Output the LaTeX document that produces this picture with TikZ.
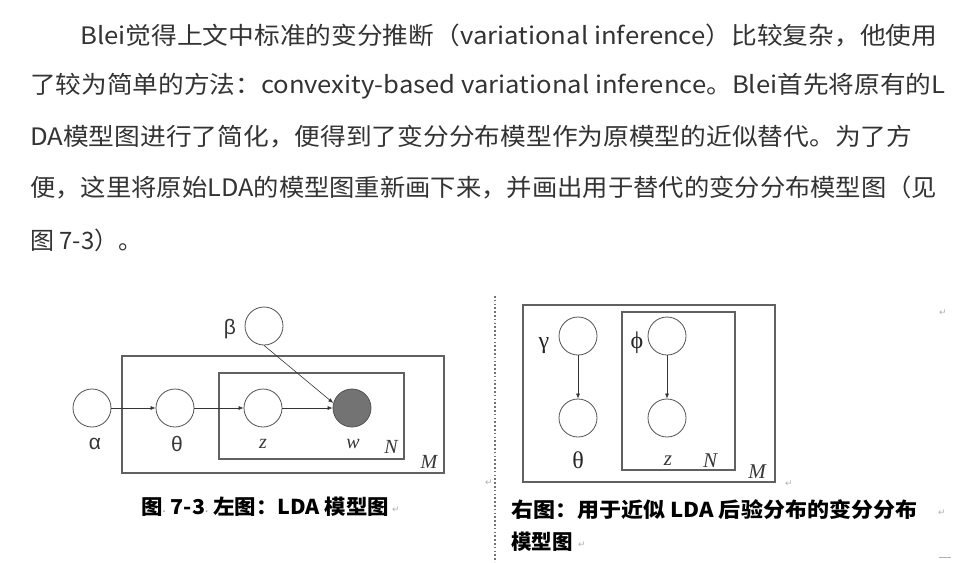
\documentclass[tikz,border=0pt]{standalone}
\usepackage{fontspec}
\setmainfont{Noto Sans CJK SC}
\newfontfamily\cjkf{Noto Sans CJK SC}
\newfontfamily\lsans{Liberation Sans}
\newfontfamily\lserif{Liberation Serif}
\newfontfamily\symf{DejaVu Sans}
\usetikzlibrary{arrows.meta}
\definecolor{txt}{HTML}{333333}
\definecolor{markc}{HTML}{B0B0B0}
\newcommand{\retmark}{{\symf\color{markc}\fontsize{9}{9}\selectfont ↵}}
\newcommand{\spmark}{{\symf\color{black!40}\fontsize{8}{8}\selectfont ·}}
\newcommand{\fitw}[2]{\resizebox{#1pt}{\height}{#2}}
\tikzset{
  para/.style={anchor=west,inner sep=0pt,text=txt,font=\cjkf\fontsize{24}{24}\selectfont},
  capt/.style={anchor=west,inner sep=0pt,text=black,font=\cjkf\bfseries\fontsize{20.5}{20.5}\selectfont},
  var/.style={circle,draw=black!68,line width=0.8pt,minimum size=38pt,inner sep=0pt,fill=white},
  obs/.style={var,fill=black!55},
  plate/.style={draw=black!62,line width=1.3pt},
  edge/.style={-{Latex[length=5pt,width=4pt]},line width=0.6pt,draw=black!80},
  glab/.style={inner sep=0pt,text=black!78,font=\lsans\fontsize{21}{21}\selectfont},
  ilab/.style={inner sep=0pt,text=black!78,font=\lserif\itshape\fontsize{20}{20}\selectfont},
  slab/.style={inner sep=0pt,text=black!85,font=\lserif\fontsize{24}{24}\selectfont},
  rmark/.style={inner sep=0pt}
}
\begin{document}
\begin{tikzpicture}[x=1pt,y=-1pt]
\useasboundingbox[fill=white] (0,0) rectangle (957,562);

% paragraph
\node[para] (l1) at (80,36) {\fitw{857}{Blei觉得上文中标准的变分推断（variational inference）比较复杂，他使用}};
\node[para] (l2) at (30,86) {\fitw{915}{了较为简单的方法：convexity-based variational inference。Blei首先将原有的L}};
\node[para] (l3) at (30,137) {\fitw{882}{DA模型图进行了简化，便得到了变分分布模型作为原模型的近似替代。为了方}};
\node[para] (l4) at (30,188) {\fitw{907}{便，这里将原始LDA的模型图重新画下来，并画出用于替代的变分分布模型图（见}};
\node[para] (l5) at (30,240) {图 7-3）。};

% left diagram
\draw[plate] (122,356) rectangle (444,473);
\draw[plate] (219,373) rectangle (404,459);
\node[var] (alpha) at (92,408) {};
\node[var] (theta) at (175,408) {};
\node[var] (z) at (263,408) {};
\node[obs] (w) at (352,408) {};
\node[var] (beta) at (264,326) {};
\node[glab] (la) at (95,444) {α};
\node[glab] (lt) at (177,444) {θ};
\node[glab] (lb) at (230,329) {β};
\node[ilab] (lz) at (263,444) {z};
\node[ilab] (lw) at (353,444) {w};
\node[ilab] (lN) at (391,447) {N};
\node[ilab] (lM) at (429,462) {M};
\draw[edge] (alpha) -- (theta);
\draw[edge] (theta) -- (z);
\draw[edge] (z) -- (w);
\draw[edge] (beta.south) -- (w.165);

% separator
\draw[black!55,line width=1.6pt,dash pattern=on 1.6pt off 2.2pt] (495,296) -- (495,562);

% right diagram
\draw[plate] (523,305) rectangle (775,482);
\draw[plate] (622,312) rectangle (735,470);
\node[var] (gamma) at (578,336) {};
\node[var] (theta2) at (578,418) {};
\node[var] (phi) at (667,336) {};
\node[var] (z2) at (667,418) {};
\node[slab] (lg) at (544,346) {γ};
\node[slab] (lp) at (637,343) {ϕ};
\node[slab] (lt2) at (578,460) {θ};
\node[ilab,font=\lserif\itshape\fontsize{21}{21}\selectfont] (lz2) at (668,461) {z};
\node[ilab,font=\lserif\itshape\fontsize{21}{21}\selectfont] (lN2) at (710,461) {N};
\node[ilab,font=\lserif\itshape\fontsize{21}{21}\selectfont] (lM2) at (757,472) {M};
\draw[edge] (gamma) -- (theta2);
\draw[edge] (phi) -- (z2);

% captions
\node[capt] (c1) at (141,507) {\fitw{248}{图\spmark\ 7-3\spmark\ 左图：LDA 模型图}};
\node[capt] (c2) at (511,510) {\fitw{406}{右图：用于近似 LDA 后验分布的变分分布}};
\node[capt] (c3) at (511,542) {模型图};

% formatting marks
\node[rmark] (m1) at (396,510) {\retmark};
\node[rmark] (m2) at (489,483) {\retmark};
\node[rmark] (m3) at (789,484) {\retmark};
\node[rmark] (m4) at (943,313) {\retmark};
\node[rmark] (m5) at (942,513) {\retmark};
\node[rmark] (m6) at (582,545) {\retmark};
\coordinate (d1) at (939,557);
\coordinate (d2) at (951,557);
\draw[markc,line width=1pt] (d1) -- (d2);
\end{tikzpicture}
\end{document}
